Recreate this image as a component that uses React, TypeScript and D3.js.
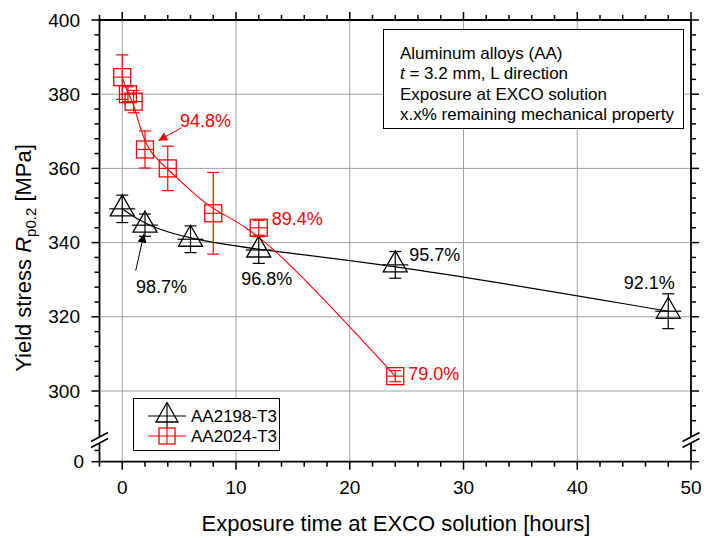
import React from "react";
import * as d3 from "d3";

// AA2198-T3 (black triangles)
const hours2198 = [0, 2, 6, 12, 24, 48];
const stress2198 = [349.1, 344.7, 340.9, 338.0, 334.0, 321.5];
const err2198 = [3.7, 3.0, 3.6, 3.6, 3.6, 4.7];

// AA2024-T3 (red squares)
const hours2024 = [0, 0.5, 1, 2, 4, 8, 12, 24];
const stress2024 = [384.6, 380.0, 378.0, 365.1, 360.0, 347.9, 344.0, 304.0];
const err2024 = [6.0, 2.0, 3.0, 5.0, 6.0, 11.0, 2.0, 1.5];

// remaining property labels
const remainHours2198 = [2, 12, 24, 48];
const remain2198 = ["98.7%", "96.8%", "95.7%", "92.1%"];
const remainHours2024 = [2, 12, 24];
const remain2024 = ["94.8%", "89.4%", "79.0%"];

const xTicks = [0, 10, 20, 30, 40, 50];
const yTicks = [300, 320, 340, 360, 380, 400];
const yLowTicks = [0];
const seriesNames = ["AA2198-T3", "AA2024-T3"];
const infoLines = [
  "Aluminum alloys (AA)",
  "= 3.2 mm, L direction",
  "Exposure at EXCO solution",
  "x.x% remaining mechanical property",
];

const FONT = "'Liberation Sans', Arial, sans-serif";
const RED = "#ff0000";

const left = 99.5;
const right = 691;
const top = 20;
const bottom = 461.7;
const breakY = 440;

const x = d3.scaleLinear().domain([-2, 50]).range([left, right]);
const y = d3.scaleLinear().domain([300, 400]).range([391, top]);
const yLow = d3.scaleLinear().domain([0, 5]).range([bottom, 443]);

const xMinor = d3.range(-2, 50.1, 2).filter((v) => v % 10 !== 0);
const yMinor = d3.range(292, 400, 4).filter((v) => v % 20 !== 0);

const Triangle = ({ cx, cy }: { cx: number; cy: number }) => (
  <path
    d={`M${cx},${cy - 14}L${cx + 12},${cy + 7}L${cx - 12},${cy + 7}Z`}
    fill="none"
    stroke="#000"
    strokeWidth={1.3}
  />
);

const Square = ({ cx, cy }: { cx: number; cy: number }) => (
  <rect x={cx - 8.5} y={cy - 8.5} width={17} height={17} fill="none" stroke={RED} strokeWidth={1.3} />
);

const ErrorBar = ({ cx, v, e, color }: { cx: number; v: number; e: number; color: string }) => {
  const y0 = y(v - e);
  const y1 = y(v + e);
  return (
    <g stroke={color} strokeWidth={1.2}>
      <line x1={cx} x2={cx} y1={y0} y2={y1} />
      <line x1={cx - 6} x2={cx + 6} y1={y0} y2={y0} />
      <line x1={cx - 6} x2={cx + 6} y1={y1} y2={y1} />
    </g>
  );
};

export default function App() {
  const line2198 = d3
    .line<number>()
    .x((_, i) => x(hours2198[i]))
    .y((d) => y(d))
    .curve(d3.curveBasis)(stress2198);
  const line2024 = d3
    .line<number>()
    .x((_, i) => x(hours2024[i]))
    .y((d) => y(d))
    .curve(d3.curveBasis)(stress2024);

  const at2198 = (h: number) => {
    const i = hours2198.indexOf(h);
    return [x(h), y(stress2198[i])];
  };
  const at2024 = (h: number) => {
    const i = hours2024.indexOf(h);
    return [x(h), y(stress2024[i])];
  };

  // label offsets from the data point (px)
  const off2198 = [
    { dx: -9, dy: 62, anchor: "start" },
    { dx: 8, dy: 29, anchor: "middle" },
    { dx: 14, dy: -10, anchor: "start" },
    { dx: -19, dy: -29, anchor: "middle" },
  ];
  const off2024 = [
    { dx: 35, dy: -29, anchor: "start" },
    { dx: 13, dy: -9, anchor: "start" },
    { dx: 13, dy: -2, anchor: "start" },
  ];

  const [p987x, p987y] = at2198(2);
  const [p948x, p948y] = at2024(2);

  const axisSegments = (
    <g stroke="#000" strokeWidth={1.8} fill="none">
      <line x1={left - 1} x2={right + 1} y1={bottom} y2={bottom} />
      <line x1={left - 1} x2={right + 1} y1={top} y2={top} />
      <line x1={left} x2={left} y1={top} y2={breakY - 3} />
      <line x1={right} x2={right} y1={top} y2={breakY - 3} />
      <line x1={left} x2={left} y1={breakY + 3} y2={bottom} />
      <line x1={right} x2={right} y1={breakY + 3} y2={bottom} />
    </g>
  );

  const breakMarks = [left, right].map((ax) => (
    <g key={ax} stroke="#000" strokeWidth={1.5}>
      <line x1={ax - 8.5} x2={ax + 8.5} y1={breakY + 1.5} y2={breakY - 7.5} />
      <line x1={ax - 8.5} x2={ax + 8.5} y1={breakY + 7.5} y2={breakY - 1.5} />
    </g>
  ));

  return (
    <svg
      width={704}
      height={538}
      style={{ position: "absolute", left: 0, top: 0, background: "#fff" }}
      fontFamily={FONT}
    >
      <rect width={704} height={538} fill="#fff" />

      {/* grid */}
      <g stroke="#a0a0a0" strokeWidth={1}>
        {xTicks
          .filter((t) => t > -2 && t < 50)
          .map((t) => (
            <line key={"gx" + t} x1={x(t)} x2={x(t)} y1={top} y2={bottom} />
          ))}
        {yTicks
          .filter((t) => t < 400)
          .map((t) => (
            <line key={"gy" + t} x1={left} x2={right} y1={y(t)} y2={y(t)} />
          ))}
      </g>

      {/* info box */}
      <rect x={383.5} y={29.5} width={300} height={99} fill="#fff" stroke="#000" strokeWidth={1} />
      <g fontSize={17} fill="#000">
        {infoLines.map((s, i) => (
          <text key={s} x={400} y={58.5 + i * 20.5}>
            {i === 1 ? (
              <>
                <tspan fontStyle="italic">t</tspan> {s}
              </>
            ) : (
              s
            )}
          </text>
        ))}
      </g>

      {/* lines */}
      <path d={line2198 ?? ""} fill="none" stroke="#000" strokeWidth={1.2} />
      <path d={line2024 ?? ""} fill="none" stroke={RED} strokeWidth={1.1} />

      {/* AA2198 symbols */}
      {hours2198.map((h, i) => {
        const cx = x(h);
        const cy = y(stress2198[i]);
        return (
          <g key={"t" + h}>
            <ErrorBar cx={cx} v={stress2198[i]} e={err2198[i]} color="#000" />
            <line x1={cx - 13} x2={cx + 13} y1={cy} y2={cy} stroke="#000" strokeWidth={1.2} />
            <Triangle cx={cx} cy={cy} />
          </g>
        );
      })}

      {/* AA2024 symbols */}
      {hours2024.map((h, i) => {
        const cx = x(h);
        const cy = y(stress2024[i]);
        return (
          <g key={"s" + h}>
            <ErrorBar cx={cx} v={stress2024[i]} e={err2024[i]} color={RED} />
            <line x1={cx - 8.5} x2={cx + 8.5} y1={cy} y2={cy} stroke={RED} strokeWidth={1.1} />
            <Square cx={cx} cy={cy} />
          </g>
        );
      })}

      {/* remaining labels */}
      <g fontSize={18}>
        {remainHours2198.map((h, i) => {
          const [px, py] = at2198(h);
          const o = off2198[i];
          return (
            <text key={"l" + h} x={px + o.dx} y={py + o.dy} dy="0.35em" textAnchor={o.anchor} fill="#000">
              {remain2198[i]}
            </text>
          );
        })}
        {remainHours2024.map((h, i) => {
          const [px, py] = at2024(h);
          const o = off2024[i];
          return (
            <text key={"r" + h} x={px + o.dx} y={py + o.dy} dy="0.35em" textAnchor={o.anchor} fill={RED}>
              {remain2024[i]}
            </text>
          );
        })}
      </g>

      {/* arrows */}
      <defs>
        <marker id="ahBlack" viewBox="0 0 10 10" refX={10} refY={5} markerWidth={9} markerHeight={9} markerUnits="userSpaceOnUse" orient="auto">
          <path d="M0,0L10,5L0,10Z" fill="#000" />
        </marker>
        <marker id="ahRed" viewBox="0 0 10 10" refX={10} refY={5} markerWidth={9} markerHeight={9} markerUnits="userSpaceOnUse" orient="auto">
          <path d="M0,0L10,5L0,10Z" fill={RED} />
        </marker>
      </defs>
      <line x1={p987x - 9.3} y1={p987y + 45.5} x2={p987x - 1} y2={p987y + 8.5} stroke="#000" strokeWidth={1} markerEnd="url(#ahBlack)" />
      <line x1={p948x + 36.7} y1={p948y - 21.8} x2={p948x + 13.3} y2={p948y - 8.8} stroke={RED} strokeWidth={1} markerEnd="url(#ahRed)" />

      {/* legend */}
      <rect x={133.5} y={398.5} width={146} height={52} fill="#fff" stroke="#000" strokeWidth={1} />
      <g>
        <line x1={148} x2={186} y1={416} y2={416} stroke="#000" strokeWidth={1.2} />
        <line x1={167} x2={167} y1={404} y2={429} stroke="#000" strokeWidth={1.2} />
        <path d="M167,402.5L178,422L156,422Z" fill="none" stroke="#000" strokeWidth={1.3} />
        <text x={191} y={416} dy="0.35em" fontSize={17}>
          {seriesNames[0]}
        </text>
        <line x1={148} x2={186} y1={436} y2={436} stroke={RED} strokeWidth={1.1} />
        <line x1={167} x2={167} y1={428} y2={444} stroke={RED} strokeWidth={1.1} />
        <rect x={159} y={428} width={16} height={16} fill="none" stroke={RED} strokeWidth={1.3} />
        <text x={191} y={436} dy="0.35em" fontSize={17}>
          {seriesNames[1]}
        </text>
      </g>

      {/* axes */}
      {axisSegments}
      {breakMarks}
      <g stroke="#000" strokeWidth={1.5}>
        {xTicks.map((t) => (
          <g key={"xt" + t}>
            <line x1={x(t)} x2={x(t)} y1={bottom} y2={bottom + 8} />
            <line x1={x(t)} x2={x(t)} y1={top} y2={top - 8} />
          </g>
        ))}
        {xMinor.map((t) => (
          <g key={"xm" + t}>
            <line x1={x(t)} x2={x(t)} y1={bottom} y2={bottom + 5} />
            <line x1={x(t)} x2={x(t)} y1={top} y2={top - 5} />
          </g>
        ))}
        {yTicks.map((t) => (
          <g key={"yt" + t}>
            <line x1={left} x2={left - 8} y1={y(t)} y2={y(t)} />
            <line x1={right} x2={right + 8} y1={y(t)} y2={y(t)} />
          </g>
        ))}
        {yMinor.map((t) => (
          <g key={"ym" + t}>
            <line x1={left} x2={left - 5} y1={y(t)} y2={y(t)} />
            <line x1={right} x2={right + 5} y1={y(t)} y2={y(t)} />
          </g>
        ))}
        {yLowTicks.map((t) => (
          <g key={"yl" + t}>
            <line x1={left} x2={left - 8} y1={yLow(t)} y2={yLow(t)} />
            <line x1={right} x2={right + 8} y1={yLow(t)} y2={yLow(t)} />
          </g>
        ))}
        {[3].map((t) => (
          <g key={"ylm" + t}>
            <line x1={left} x2={left - 5} y1={yLow(t)} y2={yLow(t)} />
            <line x1={right} x2={right + 5} y1={yLow(t)} y2={yLow(t)} />
          </g>
        ))}
      </g>

      {/* tick labels */}
      <g fontSize={19} fill="#000">
        {xTicks.map((t) => (
          <text key={"xl" + t} x={x(t)} y={487} dy="0.35em" textAnchor="middle">
            {t}
          </text>
        ))}
        {yTicks.map((t) => (
          <text key={"yl" + t} x={80} y={y(t)} dy="0.35em" textAnchor="end">
            {t}
          </text>
        ))}
        {yLowTicks.map((t) => (
          <text key={"yll" + t} x={84} y={yLow(t)} dy="0.35em" textAnchor="end">
            {t}
          </text>
        ))}
      </g>

      {/* axis titles */}
      <text x={396} y={531} fontSize={22} textAnchor="middle">
        Exposure time at EXCO solution [hours]
      </text>
      <text transform="translate(31,258) rotate(-90)" fontSize={22} textAnchor="middle">
        Yield stress <tspan fontStyle="italic">R</tspan>
        <tspan fontSize={15} dy={5}>p0.2</tspan>
        <tspan dy={-5}> [MPa]</tspan>
      </text>
    </svg>
  );
}
